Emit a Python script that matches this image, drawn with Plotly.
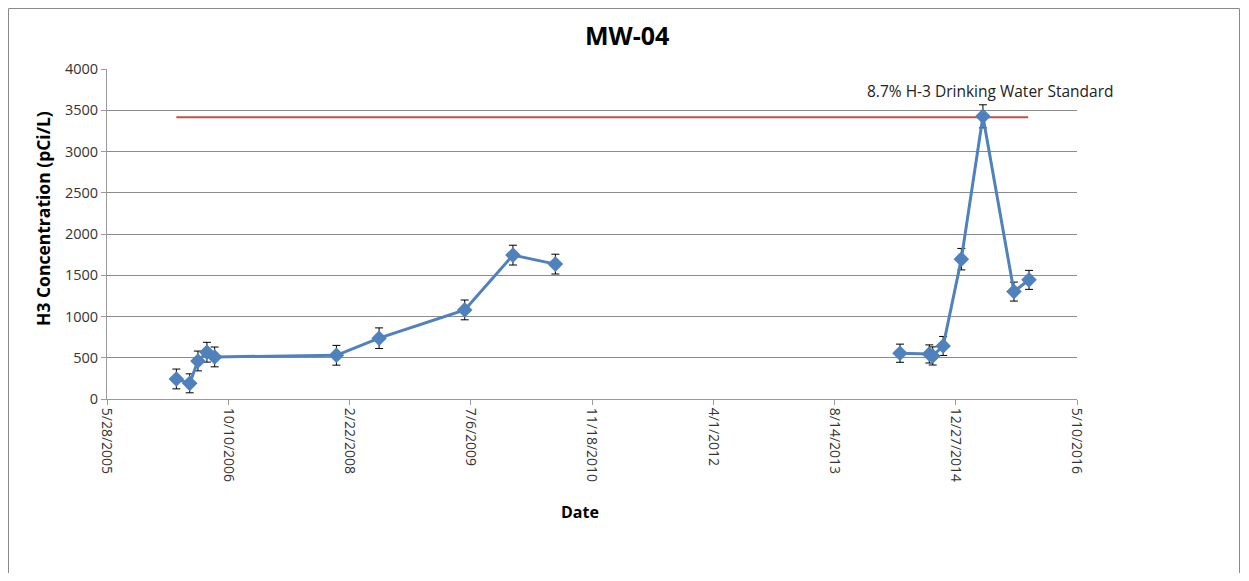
import plotly.graph_objects as go

# Sampling campaign 1 (2006-2010)
dates_a = ["2006-03-10", "2006-05-04", "2006-06-07", "2006-07-14", "2006-08-15",
           "2007-12-30", "2008-06-23", "2009-06-11", "2009-12-27", "2010-06-20"]
h3_a = [243, 190, 461, 567, 510, 530, 737, 1080, 1744, 1635]
err_a = [120, 115, 120, 120, 120, 120, 125, 120, 120, 120]

# Sampling campaign 2 (2014-2015)
dates_b = ["2014-05-11", "2014-09-09", "2014-09-23", "2014-11-05", "2015-01-19",
           "2015-04-18", "2015-08-24", "2015-10-25"]
h3_b = [555, 546, 522, 643, 1695, 3426, 1302, 1444]
err_b = [110, 110, 110, 115, 130, 140, 115, 115]

std_dates = ["2006-03-10", "2015-10-22"]
std_value = [3415, 3415]
std_label = "8.7% H-3 Drinking Water Standard"

tick_vals = ["2005-05-28", "2006-10-10", "2008-02-22", "2009-07-06", "2010-11-18",
             "2012-04-01", "2013-08-14", "2014-12-27", "2016-05-10"]
tick_text = ["5/28/2005", "10/10/2006", "2/22/2008", "7/6/2009", "11/18/2010",
             "4/1/2012", "8/14/2013", "12/27/2014", "5/10/2016"]
y_ticks = [0, 500, 1000, 1500, 2000, 2500, 3000, 3500, 4000]

font_family = "Open Sans, Liberation Sans, sans-serif"
blue = "#4F81BD"

fig = go.Figure()
fig.add_trace(go.Scatter(
    x=std_dates, y=std_value, mode="lines",
    line=dict(color="#C0504D", width=2), hoverinfo="skip", showlegend=False))
for d, v, e in [(dates_a, h3_a, err_a), (dates_b, h3_b, err_b)]:
    fig.add_trace(go.Scatter(
        x=d, y=v, mode="lines+markers",
        line=dict(color=blue, width=3),
        marker=dict(symbol="diamond", size=12, color=blue),
        error_y=dict(type="data", array=e, visible=True, color="black", thickness=1, width=4),
        showlegend=False))

# page has an 8px body margin: plot area target is x 107..1077, y 69..399 on screen
OFF = 8
L, T = 107 - OFF, 69 - OFF
PW, PH = 970, 330
W, H = 1249 - 2 * OFF, 581 - 2 * OFF


def px(x):
    return (x - 107) / PW


def py(y):
    return (399 - y) / PH


fig.update_layout(
    width=W, height=H,
    margin=dict(l=L, r=W - L - PW, t=T, b=H - T - PH),
    plot_bgcolor="white", paper_bgcolor="white",
    font=dict(family=font_family, color="#404040"),
    xaxis=dict(
        range=["2005-05-28", "2016-05-10"],
        tickvals=tick_vals, ticktext=tick_text, tickangle=90,
        tickfont=dict(size=14, color="#333333"),
        showgrid=False, showline=True, linecolor="#9a9a9a", linewidth=1,
        ticks="outside", ticklen=5, tickcolor="#9a9a9a",
        zeroline=False),
    yaxis=dict(
        range=[0, 4000], tickvals=y_ticks,
        tickfont=dict(size=14.5, color="#333333"),
        showgrid=True, gridcolor="#8c8c8c", gridwidth=1,
        showline=True, linecolor="#9a9a9a", linewidth=1,
        ticks="outside", ticklen=5, tickcolor="#9a9a9a",
        zeroline=False),
    annotations=[
        dict(text="<b>MW-04</b>", xref="paper", yref="paper", x=px(627), y=py(35),
             xanchor="center", yanchor="middle", showarrow=False,
             font=dict(size=25, color="black")),
        dict(text="<b>H3 Concentration (pCi/L)</b>", xref="paper", yref="paper",
             x=px(43), y=py(219), xanchor="center", yanchor="middle", textangle=-90,
             showarrow=False, font=dict(size=17.5, color="black")),
        dict(text="<b>Date</b>", xref="paper", yref="paper", x=px(580), y=py(512),
             xanchor="center", yanchor="middle", showarrow=False,
             font=dict(size=16, color="black")),
        dict(text=std_label, xref="paper", yref="paper",
             x=px(990), y=py(91), xanchor="center", yanchor="middle",
             showarrow=False, font=dict(size=15.5, color="#222222")),
    ],
    shapes=[
        dict(type="rect", xref="paper", yref="paper",
             x0=px(8.5), x1=px(1239.5),
             y0=py(600), y1=py(8.5),
             line=dict(color="#8a8a8a", width=1), fillcolor="rgba(0,0,0,0)", layer="below"),
    ],
)
fig.write_html("out.html")
